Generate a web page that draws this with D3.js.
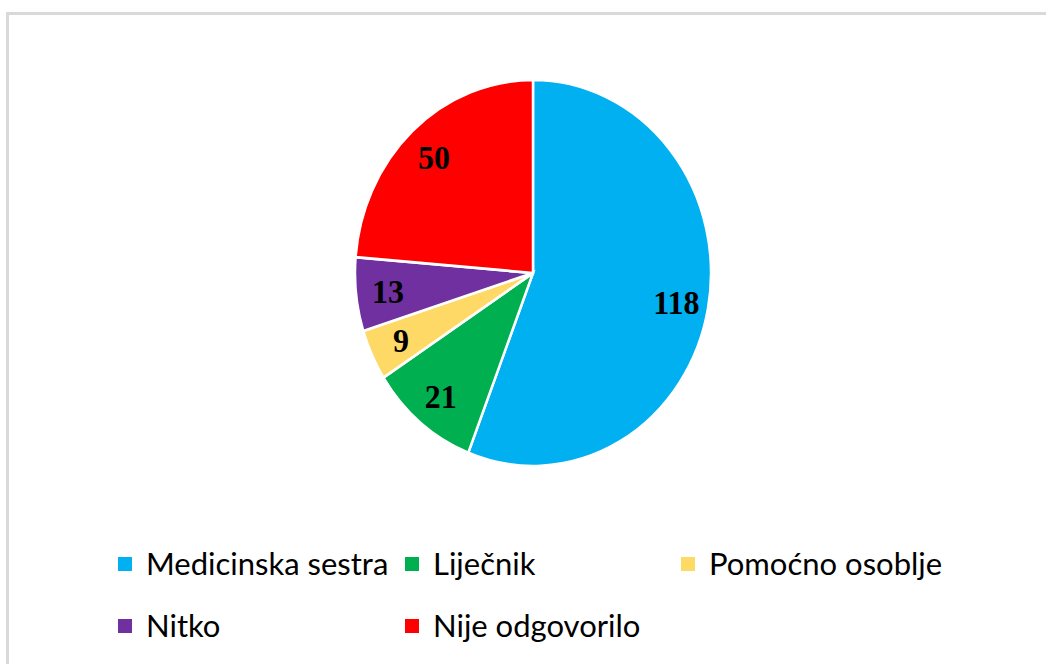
<!DOCTYPE html>
<html>
<head>
<meta charset="utf-8">
<script src="https://cdn.jsdelivr.net/npm/d3@7"></script>
<style>
  body { margin: 0; background: #fff; }
  #chart { width: 1046px; height: 664px; }
</style>
</head>
<body>
<div id="chart"></div>
<script>
// data
const categories = ["Medicinska sestra", "Liječnik", "Pomoćno osoblje", "Nitko", "Nije odgovorilo"];
const counts = [118, 21, 9, 13, 50];
const colors = ["#00B0F0", "#00B050", "#FFD966", "#7030A0", "#FF0000"];

const width = 1046, height = 664;

const svg = d3.select("#chart").append("svg")
    .attr("width", width)
    .attr("height", height);

// chart area border (only left/top visible in the crop)
svg.append("rect")
    .attr("x", 7.5)
    .attr("y", 13.5)
    .attr("width", 1100)
    .attr("height", 700)
    .attr("fill", "none")
    .attr("stroke", "#d9d9d9")
    .attr("stroke-width", 3);

// pie (slightly taller than wide, like the reference)
let cx = 533, cy = 273, r = 178, sy = 193 / 178;

let rows = categories.map((c, i) => ({name: c, value: counts[i], color: colors[i]}));

let pie = d3.pie()
    .sort(null)
    .value(d => d.value);

let arc = d3.arc().innerRadius(0).outerRadius(r);
let labelArc = d3.arc().innerRadius(r * 0.82).outerRadius(r * 0.82);

let g = svg.append("g")
    .attr("transform", `translate(${cx}, ${cy}) scale(1, ${sy})`);

g.selectAll(".slice")
    .data(pie(rows))
    .join("path")
    .attr("class", "slice")
    .attr("d", arc)
    .attr("fill", d => d.data.color)
    .attr("stroke", "#fff")
    .attr("stroke-width", 2.5);

g.selectAll(".slice-label")
    .data(pie(rows))
    .join("text")
    .attr("class", "slice-label")
    .attr("transform", d => `translate(${labelArc.centroid(d)})`)
    .attr("text-anchor", "middle")
    .attr("dy", "0.35em")
    .style("font-family", "'Liberation Serif', 'Times New Roman', serif")
    .style("font-weight", "bold")
    .style("font-size", "32px")
    .style("fill", "#000")
    .text(d => d.data.value);

// legend, 3 columns
let colX = [118, 405, 681];
let rowY = [564, 626];
let box = 14;

let legend = svg.selectAll(".legend-item")
    .data(rows)
    .join("g")
    .attr("class", "legend-item")
    .attr("transform", (d, i) => `translate(${colX[i % 3]}, ${rowY[Math.floor(i / 3)]})`);

legend.append("rect")
    .attr("x", 0)
    .attr("y", -box / 2)
    .attr("width", box)
    .attr("height", box)
    .attr("fill", d => d.color);

legend.append("text")
    .attr("x", 28)
    .attr("dy", "0.35em")
    .style("font-family", "Lato, 'Open Sans', sans-serif")
    .style("font-size", "31px")
    .style("fill", "#000")
    .text(d => d.name);
</script>
</body>
</html>
